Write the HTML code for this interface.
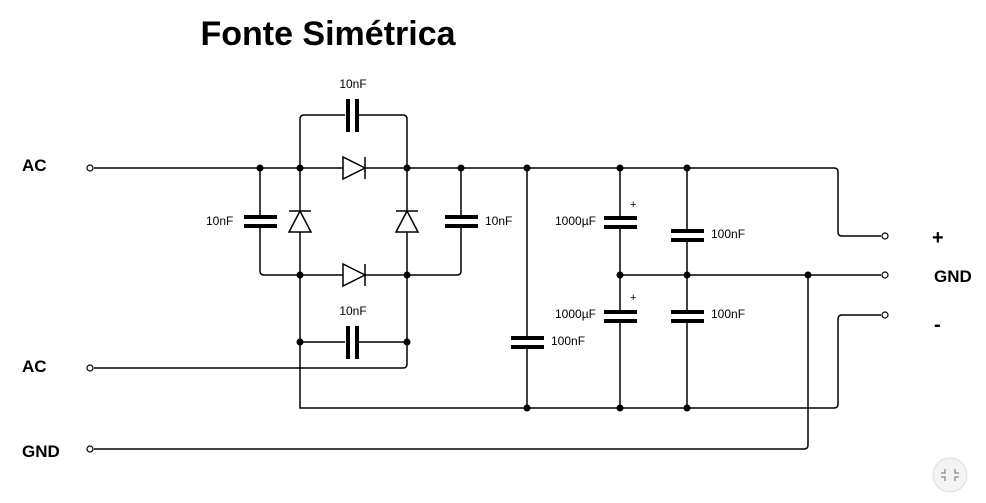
<!DOCTYPE html>
<html><head><style>body{margin:0;background:#fff}svg{display:block}</style></head><body>
<svg width="986" height="503" viewBox="0 0 986 503" xmlns="http://www.w3.org/2000/svg" font-family="Liberation Sans, sans-serif">
<text x="328" y="45" font-size="34" font-weight="bold" text-anchor="middle">Fonte Simétrica</text>
<g fill="none" stroke="#000" stroke-width="1.5">
<path d="M94 168H834Q838 168 838 172V232Q838 236 842 236H881"/>
<path d="M94 368H403Q407 368 407 364V119Q407 115 403 115H304Q300 115 300 119V408H834Q838 408 838 404V319Q838 315 842 315H881"/>
<path d="M94 449H804Q808 449 808 445V275"/>
<path d="M620 275H881"/>
<path d="M260 168V271Q260 275 264 275H457Q461 275 461 271V168"/>
<path d="M300 342H407"/>
<path d="M527 168V408M620 168V408M687 168V408"/>
<path d="M343 157V179L365 168Z" fill="#fff"/>
<path d="M365 157V179"/>
<path d="M343 264V286L365 275Z" fill="#fff"/>
<path d="M365 264V286"/>
<path d="M300 211L289 232H311Z" fill="#fff"/><path d="M289 211H311"/>
<path d="M407 211L396 232H418Z" fill="#fff"/><path d="M396 211H418"/>
</g>
<g fill="#fff"><rect x="345" y="100" width="14" height="30"/><rect x="345" y="327" width="14" height="30"/>
<rect x="240" y="218" width="40" height="8"/><rect x="441" y="218" width="40" height="8"/>
<rect x="507" y="338" width="40" height="8"/><rect x="600" y="218" width="40" height="8"/><rect x="600" y="312" width="40" height="8"/>
<rect x="667" y="231" width="40" height="8"/><rect x="667" y="312" width="40" height="8"/></g>
<g fill="#000">
<rect x="346" y="99" width="4" height="33"/><rect x="355" y="99" width="4" height="33"/>
<rect x="346" y="326" width="4" height="33"/><rect x="355" y="326" width="4" height="33"/>
<rect x="244" y="215" width="33" height="4"/><rect x="244" y="224" width="33" height="4"/>
<rect x="445" y="215" width="33" height="4"/><rect x="445" y="224" width="33" height="4"/>
<rect x="511" y="336" width="33" height="4"/><rect x="511" y="345" width="33" height="4"/>
<rect x="604" y="216" width="33" height="4"/><rect x="604" y="225" width="33" height="4"/>
<rect x="604" y="310" width="33" height="4"/><rect x="604" y="319" width="33" height="4"/>
<rect x="671" y="229" width="33" height="4"/><rect x="671" y="238" width="33" height="4"/>
<rect x="671" y="310" width="33" height="4"/><rect x="671" y="319" width="33" height="4"/>
<g>
<circle cx="260" cy="168" r="3.5"/><circle cx="300" cy="168" r="3.5"/><circle cx="407" cy="168" r="3.5"/><circle cx="461" cy="168" r="3.5"/><circle cx="527" cy="168" r="3.5"/><circle cx="620" cy="168" r="3.5"/><circle cx="687" cy="168" r="3.5"/>
<circle cx="300" cy="275" r="3.5"/><circle cx="407" cy="275" r="3.5"/><circle cx="620" cy="275" r="3.5"/><circle cx="687" cy="275" r="3.5"/><circle cx="808" cy="275" r="3.5"/>
<circle cx="300" cy="342" r="3.5"/><circle cx="407" cy="342" r="3.5"/>
<circle cx="527" cy="408" r="3.5"/><circle cx="620" cy="408" r="3.5"/><circle cx="687" cy="408" r="3.5"/>
</g>
<g fill="#fff" stroke="#000" stroke-width="1.2"><circle cx="90" cy="168" r="3"/><circle cx="90" cy="368" r="3"/><circle cx="90" cy="449" r="3"/><circle cx="885" cy="236" r="3"/><circle cx="885" cy="275" r="3"/><circle cx="885" cy="315" r="3"/></g>
<g font-size="12">
<text x="353" y="88" text-anchor="middle">10nF</text><text x="353" y="315" text-anchor="middle">10nF</text>
<text x="206" y="225">10nF</text><text x="485" y="225">10nF</text>
<text x="551" y="345">100nF</text><text x="555" y="225">1000µF</text><text x="555" y="318">1000µF</text>
<text x="711" y="238">100nF</text><text x="711" y="318">100nF</text>
<text x="630" y="208" font-size="11">+</text><text x="630" y="301" font-size="11">+</text>
</g>
<g font-size="17" font-weight="bold">
<text x="22" y="171">AC</text><text x="22" y="372">AC</text><text x="22" y="457">GND</text>
<text x="932" y="244" font-size="20">+</text><text x="934" y="282">GND</text><text x="934" y="331" font-size="20">-</text>
</g>
</g>
<circle cx="950" cy="475" r="17" fill="#f3f3f3" stroke="#ddd"/>
<path d="M945 469v4h-4M955 469v4h4M945 481v-4h-4M955 481v-4h4" stroke="#888" fill="none" stroke-width="1.3"/>
</svg>
</body></html>
